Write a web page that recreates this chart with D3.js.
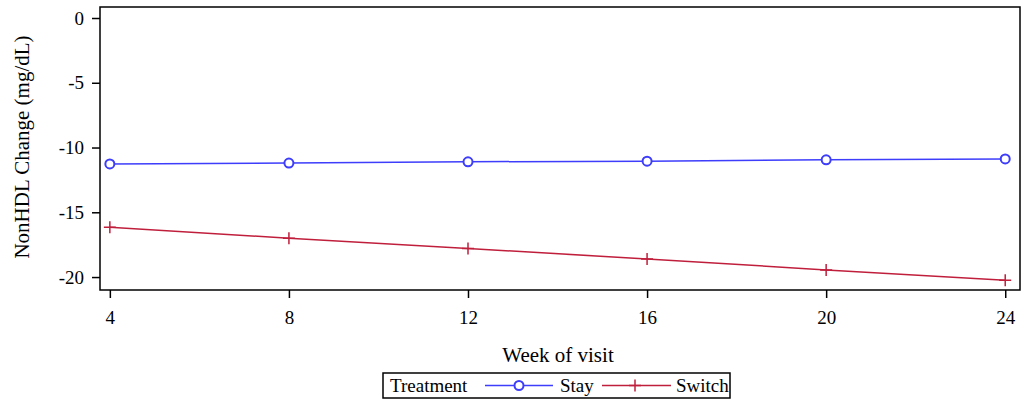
<!DOCTYPE html>
<html>
<head>
<meta charset="utf-8">
<script src="https://cdn.jsdelivr.net/npm/d3@7"></script>
<style>
  body { margin: 0; background: #fff; }
  svg { display: block; font-family: "Liberation Serif", "Times New Roman", serif; }
</style>
</head>
<body>
<div id="chart"></div>
<script>
const weeks = [4, 8, 12, 16, 20, 24];
const stay = [-11.27, -11.2, -11.1, -11.05, -10.95, -10.88];
const switchVals = [-16.15, -17.0, -17.8, -18.6, -19.45, -20.25];
const yTicks = [0, -5, -10, -15, -20];

const width = 1024;
const height = 407;
const margin = { top: 7, right: 4, bottom: 117, left: 100 };

const svg = d3.select("#chart").append("svg")
  .attr("width", width)
  .attr("height", height);

const x = d3.scaleLinear().domain([3.78, 24.33]).range([margin.left, width - margin.right]);
const y = d3.scaleLinear().domain([-21.0, 0.85]).range([height - margin.bottom, margin.top]);

// frame
svg.append("rect")
  .attr("x", margin.left).attr("y", margin.top)
  .attr("width", width - margin.right - margin.left)
  .attr("height", height - margin.bottom - margin.top)
  .attr("fill", "none").attr("stroke", "#000").attr("stroke-width", 1.5);

// axes (plain hyphen for negatives, like the original)
const fmt = (d) => String(d);
const xAxis = svg.append("g")
  .attr("transform", `translate(0,${height - margin.bottom})`)
  .call(d3.axisBottom(x).tickValues(weeks).tickFormat(fmt).tickSize(8).tickPadding(13));
const yAxis = svg.append("g")
  .attr("transform", `translate(${margin.left},0)`)
  .call(d3.axisLeft(y).tickValues(yTicks).tickFormat(fmt).tickSize(8).tickPadding(8));

[xAxis, yAxis].forEach((g) => {
  g.select(".domain").remove();
  g.selectAll("line").attr("stroke", "#000").attr("stroke-width", 1.5);
  g.selectAll("text").attr("fill", "#000").style("font-size", "19px")
    .style("font-family", "Liberation Serif, serif");
});

// axis titles
svg.append("text")
  .attr("x", 558)
  .attr("y", 362)
  .attr("text-anchor", "middle")
  .style("font-size", "21px")
  .text("Week of visit");

svg.append("text")
  .attr("transform", `translate(29,147) rotate(-90)`)
  .attr("text-anchor", "middle")
  .style("font-size", "21px")
  .text("NonHDL Change (mg/dL)");

const blue = "#3d3dfb";
const red = "#c01f3c";

const line = d3.line().x((d, i) => x(weeks[i])).y((d) => y(d));

// Stay
svg.append("path").datum(stay)
  .attr("d", line).attr("fill", "none").attr("stroke", blue).attr("stroke-width", 1.5);
svg.selectAll(".stayPt").data(stay).enter().append("circle")
  .attr("class", "stayPt")
  .attr("cx", (d, i) => x(weeks[i])).attr("cy", (d) => y(d))
  .attr("r", 4.5).attr("fill", "#fff").attr("stroke", blue).attr("stroke-width", 2);

// Switch
svg.append("path").datum(switchVals)
  .attr("d", line).attr("fill", "none").attr("stroke", red).attr("stroke-width", 1.5);
svg.selectAll(".switchPt").data(switchVals).enter().append("path")
  .attr("class", "switchPt")
  .attr("transform", (d, i) => `translate(${x(weeks[i])},${y(d)})`)
  .attr("d", "M-6,0H6M0,-6V6")
  .attr("stroke", red).attr("stroke-width", 1.5).attr("fill", "none");

// legend
const lg = svg.append("g").attr("transform", "translate(383,373)");
lg.append("rect").attr("width", 347).attr("height", 25)
  .attr("fill", "#fff").attr("stroke", "#000").attr("stroke-width", 1.5);
lg.append("text").attr("x", 7).attr("y", 19).style("font-size", "19px").text("Treatment");
lg.append("line").attr("x1", 102).attr("x2", 170).attr("y1", 12.5).attr("y2", 12.5)
  .attr("stroke", blue).attr("stroke-width", 1.5);
lg.append("circle").attr("cx", 136).attr("cy", 12.5).attr("r", 4.5)
  .attr("fill", "#fff").attr("stroke", blue).attr("stroke-width", 2);
lg.append("text").attr("x", 177).attr("y", 19).style("font-size", "19px").text("Stay");
lg.append("line").attr("x1", 219).attr("x2", 288).attr("y1", 12.5).attr("y2", 12.5)
  .attr("stroke", red).attr("stroke-width", 1.5);
lg.append("path").attr("transform", "translate(252,12.5)").attr("d", "M-6,0H6M0,-6V6")
  .attr("stroke", red).attr("stroke-width", 1.5);
lg.append("text").attr("x", 293).attr("y", 19).style("font-size", "19px").text("Switch");
</script>
</body>
</html>
